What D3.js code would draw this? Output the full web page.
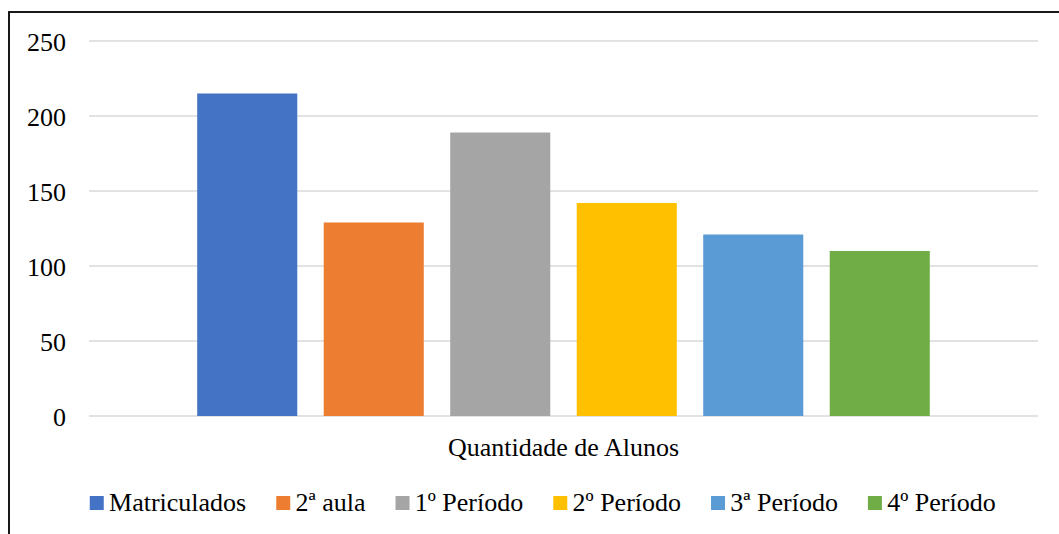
<!DOCTYPE html>
<html>
<head>
<meta charset="utf-8">
<script src="https://cdn.jsdelivr.net/npm/d3@7.9.0/dist/d3.min.js"></script>
<style>
  html, body { margin: 0; padding: 0; background: #fff; overflow: hidden; }
  svg { display: block; }
  svg text { font-family: 'Liberation Serif', 'Times New Roman', Tinos, 'DejaVu Serif', serif; }
</style>
</head>
<body>
<div id="chart"></div>
<script>
// ---- data ----
const categories = ['Quantidade de Alunos'];
const seriesNames = ['Matriculados', '2ª aula', '1º Período', '2º Período', '3ª Período', '4º Período'];
const seriesValues = [215, 129, 189, 142, 121, 110];
const yTicks = [0, 50, 100, 150, 200, 250];

// ---- style ----
const COLORS = ['#4472C4', '#ED7D31', '#A5A5A5', '#FFC000', '#5B9BD5', '#70AD47'];
const FONT_SIZE = 26;
const TEXT_COLOR = '#000';
const GRID_COLOR = '#d9d9d9';

const width = 1059, height = 534;
const plot = { left: 89, right: 1038, top: 41, bottom: 416 };

const svg = d3.select('#chart')
    .append('svg')
    .attr('width', width)
    .attr('height', height)
    .attr('viewBox', `0 0 ${width} ${height}`);

// chart frame (right/bottom edges fall outside the picture)
svg.append('rect')
    .attr('x', 9)
    .attr('y', 12)
    .attr('width', 1100)
    .attr('height', 600)
    .attr('fill', 'none')
    .attr('stroke', '#000')
    .attr('stroke-width', 1.8);

// scales
const y = d3.scaleLinear()
    .domain([0, 250])
    .range([plot.bottom, plot.top]);

const x0 = d3.scaleBand()
    .domain(categories)
    .range([plot.left, plot.right])
    .paddingInner(0.1287)
    .paddingOuter(0.1287);

const x1 = d3.scaleBand()
    .domain(seriesNames)
    .range([0, x0.bandwidth()])
    .paddingInner(0.209)
    .paddingOuter(0);

// gridlines
svg.append('g')
    .selectAll('line')
    .data(yTicks)
    .join('line')
    .attr('x1', plot.left)
    .attr('x2', plot.right)
    .attr('y1', d => y(d))
    .attr('y2', d => y(d))
    .attr('stroke', GRID_COLOR)
    .attr('stroke-width', 1.6);

// y axis labels
const yAxis = svg.append('g')
    .attr('transform', `translate(${plot.left},0)`)
    .call(d3.axisLeft(y).tickValues(yTicks).tickSize(0).tickPadding(23));
yAxis.select('.domain').remove();
yAxis.attr('font-family', null);
yAxis.selectAll('text')
    .attr('font-size', FONT_SIZE)
    .attr('fill', TEXT_COLOR)
    .attr('dy', '0.36em');

// bars
const group = svg.append('g')
    .selectAll('g')
    .data(categories)
    .join('g')
    .attr('transform', d => `translate(${x0(d)},0)`);

group.selectAll('rect')
    .data(() => seriesNames.map((name, i) => ({ name, value: seriesValues[i], i })))
    .join('rect')
    .attr('x', d => x1(d.name))
    .attr('y', d => y(d.value))
    .attr('width', x1.bandwidth())
    .attr('height', d => y(0) - y(d.value))
    .attr('fill', d => COLORS[d.i]);

// category label
svg.append('g')
    .selectAll('text')
    .data(categories)
    .join('text')
    .attr('x', d => x0(d) + x0.bandwidth() / 2)
    .attr('y', 456)
    .attr('text-anchor', 'middle')
    .attr('font-size', FONT_SIZE)
    .attr('fill', TEXT_COLOR)
    .text(d => d);

// legend
const legend = svg.append('g');
const swatch = 14, swatchGap = 5.3, itemGap = 30;
const items = legend.selectAll('g')
    .data(seriesNames)
    .join('g');

items.append('rect')
    .attr('width', swatch)
    .attr('height', swatch)
    .attr('y', 496)
    .attr('fill', (_, i) => COLORS[i]);

items.append('text')
    .attr('y', 511)
    .attr('font-size', FONT_SIZE)
    .attr('fill', TEXT_COLOR)
    .text(d => d);

let cursor = 0;
const offsets = [];
items.each(function () {
    const w = d3.select(this).select('text').node().getComputedTextLength();
    offsets.push(cursor);
    cursor += swatch + swatchGap + w + itemGap;
});
const total = cursor - itemGap;
const startX = 542.7 - total / 2;
items.each(function (_, i) {
    const g = d3.select(this);
    g.select('rect').attr('x', startX + offsets[i]);
    g.select('text').attr('x', startX + offsets[i] + swatch + swatchGap);
});
</script>
</body>
</html>
